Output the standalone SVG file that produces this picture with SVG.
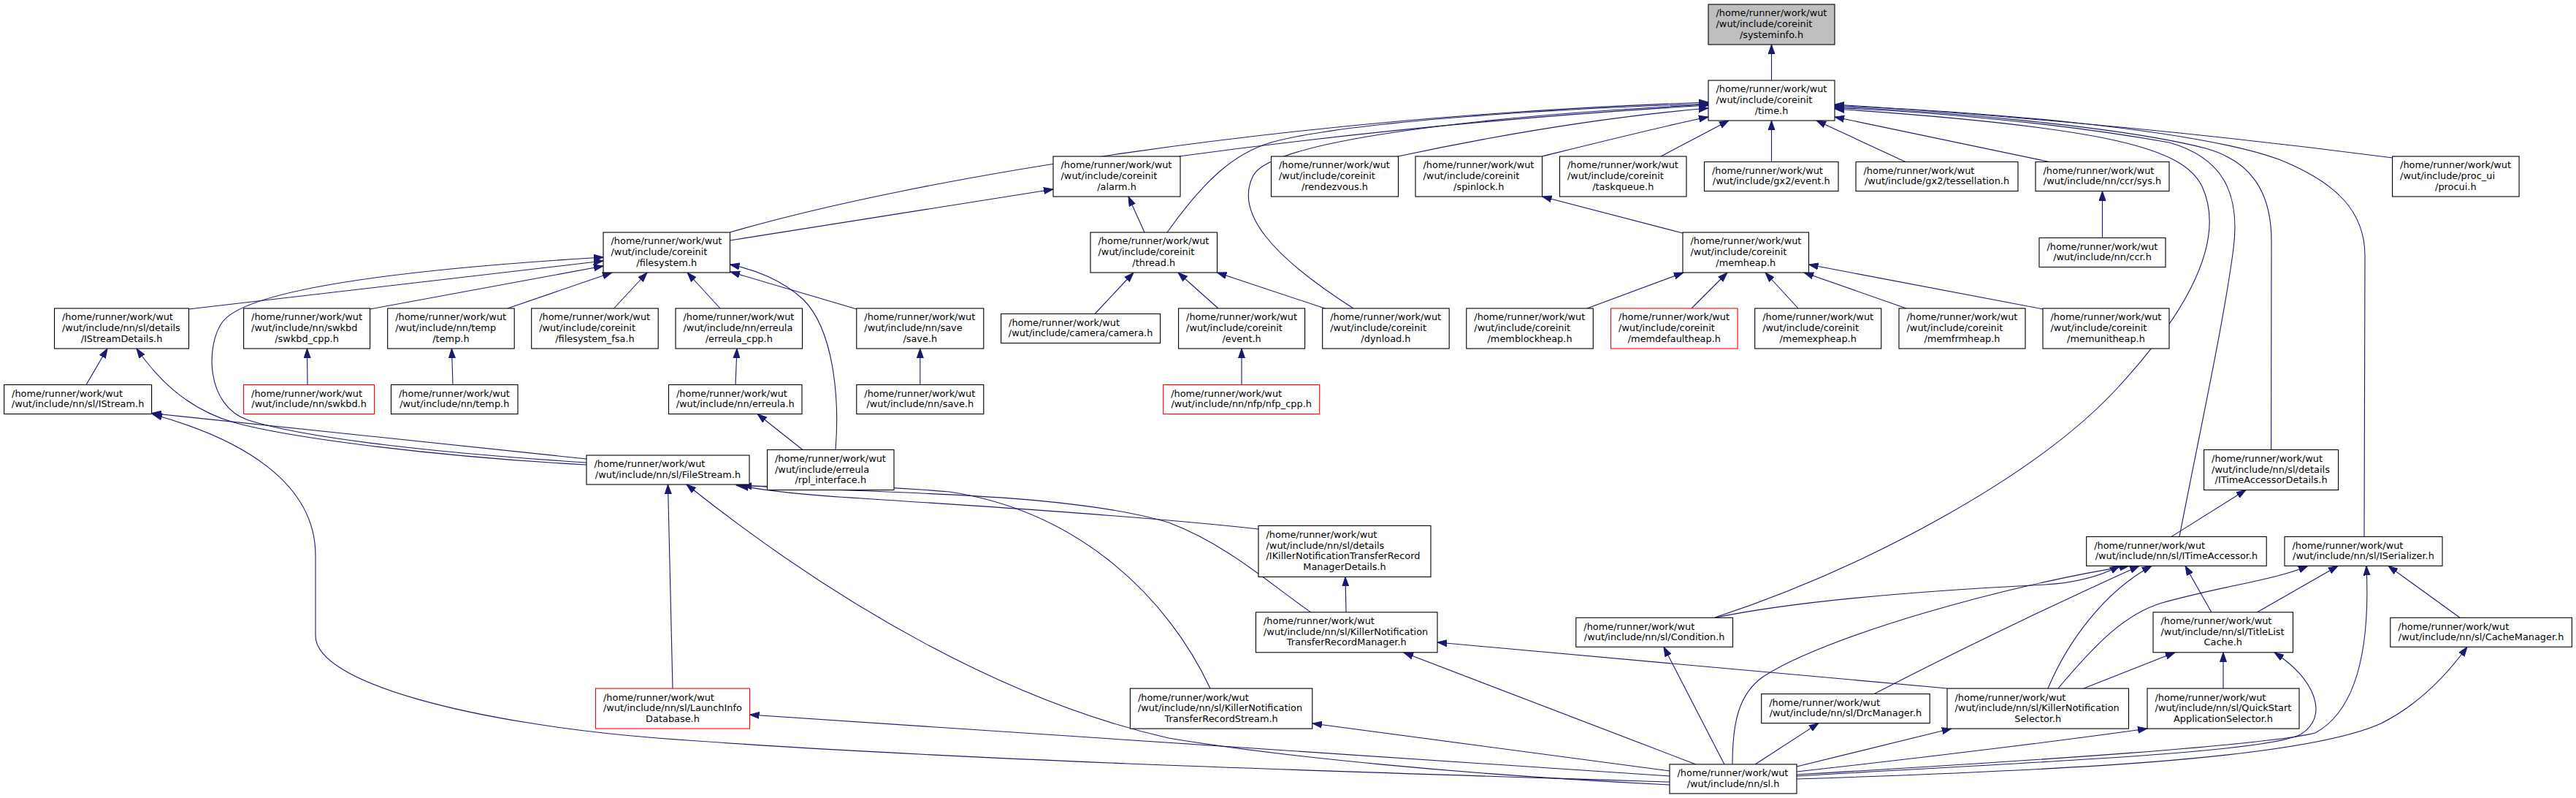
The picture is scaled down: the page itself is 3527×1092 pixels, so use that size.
<svg xmlns="http://www.w3.org/2000/svg" width="3527" height="1092" viewBox="0 0 3527 1092">
<style>
.n{fill:#fff;stroke:#000;stroke-width:1.1}
.r{fill:#fff;stroke:#ff0000;stroke-width:1.1}
.g{fill:#bfbfbf;stroke:#000;stroke-width:1.1}
text{font-family:"DejaVu Sans",sans-serif;font-size:12.9px;fill:#000}
.c{text-anchor:middle}
.e path{fill:none;stroke:#191970;stroke-width:1.1;marker-end:url(#a)}
</style>
<defs>
<marker id="a" markerUnits="userSpaceOnUse" markerWidth="14" markerHeight="10" refX="13" refY="5" orient="auto"><path d="M0,0.5 L13,5 L0,9.5 z" fill="#191970" stroke="#191970" stroke-width="1"/></marker>
</defs>
<rect width="3527" height="1092" fill="#fff"/>
<g class="e" id="edges">
<path d="M2425.5,110 L2425.5,61"/>
<path d="M999,318 C1250,245 1750,160 2339,140"/>
<path d="M1614,214 C1850,182 2100,158 2339,144"/>
<path d="M1598,318 C1650,245 1690,210 1740,195 C1850,165 2150,148 2339,142"/>
<path d="M1853,422 C1740,350 1690,290 1716,240 C1740,195 2000,160 2339,143"/>
<path d="M1914,214 C2050,185 2200,160 2339,148"/>
<path d="M2111,214 C2200,192 2280,172 2339,160"/>
<path d="M2274,214 L2367,165"/>
<path d="M2425.5,221.5 L2425.5,165"/>
<path d="M2609,221.5 L2487,165"/>
<path d="M2806,221.5 L2512,160"/>
<path d="M3276,216 C3000,180 2750,158 2512,143"/>
<path d="M2348,845 C2560,775 2790,650 2900,530 C3010,410 3045,320 3015,255 C2990,205 2900,175 2512,149"/>
<path d="M2984,734.4 C3010,600 3045,440 3058,340 C3068,260 3040,215 2970,195 C2800,165 2620,152 2512,147.5"/>
<path d="M3109.6,615.5 L3110,330 C3110,260 3080,220 3020,203 C2900,172 2650,152 2512,146"/>
<path d="M3237,734.4 L3238,350 C3238,290 3200,250 3120,218 C3000,175 2700,152 2512,144.5"/>
<path d="M999.5,329 L1442,259"/>
<path d="M1567,318 L1545,269"/>
<path d="M258.5,423 L826,357"/>
<path d="M803,633 C600,620 420,600 340,575 C280,555 282,470 305,440 C340,395 560,368 826,352"/>
<path d="M506.6,423 L826,364"/>
<path d="M695,422 L838,373"/>
<path d="M840.6,422 L886,373"/>
<path d="M986,422 L941,373"/>
<path d="M1173,423 L1000,372"/>
<path d="M1144,615.5 C1150,540 1140,450 1100,410 C1070,382 1030,368 999.5,362"/>
<path d="M1499,429.5 L1552,373"/>
<path d="M1668,422 L1613,373"/>
<path d="M1814,422 L1666.5,373"/>
<path d="M1700,526.5 L1700,477"/>
<path d="M2304,319 L2111.5,269"/>
<path d="M2173,422 L2305,373"/>
<path d="M2316,422 L2365,373"/>
<path d="M2462,422 L2417,373"/>
<path d="M2610,422 L2470,373"/>
<path d="M2797,423 L2476.5,362"/>
<path d="M2878.5,325.5 L2878.5,261.5"/>
<path d="M1259.8,526.5 L1259.8,477"/>
<path d="M620,526.5 L618.5,477"/>
<path d="M421,526.5 L420.5,477"/>
<path d="M1007,526.5 L1009,477"/>
<path d="M1099,615.5 L1037,566.5"/>
<path d="M118,526.5 L147,477"/>
<path d="M803,636 C600,625 400,600 320,578 C250,558 210,510 187,477"/>
<path d="M803,628 L207.6,565.5"/>
<path d="M2286,1070 C1800,1055 1300,1040 900,1010 C650,990 432,935 432,870 L432,760 C432,660 330,600 209,567"/>
<path d="M921,942 L914.5,663"/>
<path d="M2286,1074 C2000,1060 1750,1035 1600,1010 C1380,960 1150,830 940,663"/>
<path d="M1657,942 C1600,820 1480,700 1300,673 C1150,660 1060,668 1008,664"/>
<path d="M1723,724 C1550,705 1300,690 1180,682 C1080,676 1030,668 1012,664"/>
<path d="M1795,838 C1740,800 1680,745 1600,715 C1450,670 1150,675 1016,664"/>
<path d="M1843,837.8 L1842,789.4"/>
<path d="M2666,942 L1968,879"/>
<path d="M2322,1046 L1922,893"/>
<path d="M2361,1046 L2278,885.3"/>
<path d="M2348,845.3 C2480,818 2700,805 2800,800 C2850,797 2880,786 2902,774.4"/>
<path d="M2566,949.6 C2700,880 2850,810 2929,774.4"/>
<path d="M2804,942 C2830,880 2880,810 2946,774.4"/>
<path d="M3028,838 L2992,774.4"/>
<path d="M2372,1046 C2372,990 2380,950 2414,926 C2500,870 2750,800 2915,774.4"/>
<path d="M2973,734.4 L3075,670.5"/>
<path d="M3090,838 L3201,774.4"/>
<path d="M3368,845.3 L3270,774.4"/>
<path d="M2818,942 C2870,880 2910,840 2960,825 C3050,800 3110,795 3160,774.4"/>
<path d="M2460,1060 C2800,1040 3100,1020 3170,1003 C3230,970 3245,880 3240,774.4"/>
<path d="M2853,942 L2978,892.8"/>
<path d="M3044,942 L3044,892.8"/>
<path d="M2460,1062 C2800,1042 3100,1030 3150,1005 C3190,980 3170,930 3114,892.8"/>
<path d="M2403,1046 L2490,989.6"/>
<path d="M2460,1049 L2672,997"/>
<path d="M2460,1056 C2650,1035 2850,1010 2940,997"/>
<path d="M2460,1066 C2800,1055 3150,1040 3260,990 C3320,960 3360,910 3378,885.3"/>
<path d="M2286,1062 L1026.5,978"/>
<path d="M2286,1055 L1797,990"/>
</g>
<g id="n_systeminfo"><rect class="g" x="2339" y="6" width="173" height="55"/><text x="2349.5" y="22.4">/home/runner/work/wut</text><text x="2349.5" y="37">/wut/include/coreinit</text><text class="c" x="2425.5" y="51.6">/systeminfo.h</text></g>
<g id="n_time"><rect class="n" x="2339" y="110" width="173" height="55"/><text x="2349.5" y="126.4">/home/runner/work/wut</text><text x="2349.5" y="141">/wut/include/coreinit</text><text class="c" x="2425.5" y="155.6">/time.h</text></g>
<g id="n_alarm"><rect class="n" x="1442" y="214" width="174" height="55"/><text x="1452.5" y="230.4">/home/runner/work/wut</text><text x="1452.5" y="245">/wut/include/coreinit</text><text class="c" x="1529" y="259.6">/alarm.h</text></g>
<g id="n_rendezvous"><rect class="n" x="1740.5" y="214" width="174" height="55"/><text x="1751" y="230.4">/home/runner/work/wut</text><text x="1751" y="245">/wut/include/coreinit</text><text class="c" x="1827.5" y="259.6">/rendezvous.h</text></g>
<g id="n_spinlock"><rect class="n" x="1938" y="214" width="173.5" height="55"/><text x="1948.5" y="230.4">/home/runner/work/wut</text><text x="1948.5" y="245">/wut/include/coreinit</text><text class="c" x="2024.75" y="259.6">/spinlock.h</text></g>
<g id="n_taskqueue"><rect class="n" x="2135.5" y="214" width="173.5" height="55"/><text x="2146" y="230.4">/home/runner/work/wut</text><text x="2146" y="245">/wut/include/coreinit</text><text class="c" x="2222.25" y="259.6">/taskqueue.h</text></g>
<g id="n_gx2event"><rect class="n" x="2333.5" y="221.5" width="183.5" height="40"/><text x="2344" y="237.7">/home/runner/work/wut</text><text class="c" x="2425.25" y="252.3">/wut/include/gx2/event.h</text></g>
<g id="n_tess"><rect class="n" x="2541" y="221.5" width="222" height="40"/><text x="2551.5" y="237.7">/home/runner/work/wut</text><text class="c" x="2652" y="252.3">/wut/include/gx2/tessellation.h</text></g>
<g id="n_ccrsys"><rect class="n" x="2787" y="221.5" width="183" height="40"/><text x="2797.5" y="237.7">/home/runner/work/wut</text><text class="c" x="2878.5" y="252.3">/wut/include/nn/ccr/sys.h</text></g>
<g id="n_procui"><rect class="n" x="3275.6" y="214" width="173.5" height="55"/><text x="3286.1" y="230.4">/home/runner/work/wut</text><text x="3286.1" y="245">/wut/include/proc_ui</text><text class="c" x="3362.35" y="259.6">/procui.h</text></g>
<g id="n_filesystem"><rect class="n" x="826" y="318" width="173.5" height="55"/><text x="836.5" y="334.4">/home/runner/work/wut</text><text x="836.5" y="349">/wut/include/coreinit</text><text class="c" x="912.75" y="363.6">/filesystem.h</text></g>
<g id="n_thread"><rect class="n" x="1493" y="318" width="173.5" height="55"/><text x="1503.5" y="334.4">/home/runner/work/wut</text><text x="1503.5" y="349">/wut/include/coreinit</text><text class="c" x="1579.75" y="363.6">/thread.h</text></g>
<g id="n_memheap"><rect class="n" x="2304" y="318" width="172.5" height="55"/><text x="2314.5" y="334.4">/home/runner/work/wut</text><text x="2314.5" y="349">/wut/include/coreinit</text><text class="c" x="2390.25" y="363.6">/memheap.h</text></g>
<g id="n_ccr"><rect class="n" x="2792" y="325.5" width="173" height="40"/><text x="2802.5" y="341.7">/home/runner/work/wut</text><text class="c" x="2878.5" y="356.3">/wut/include/nn/ccr.h</text></g>
<g id="n_istreamdetails"><rect class="n" x="74.5" y="422" width="184" height="55"/><text x="85" y="438.4">/home/runner/work/wut</text><text x="85" y="453">/wut/include/nn/sl/details</text><text class="c" x="166.5" y="467.6">/IStreamDetails.h</text></g>
<g id="n_swkbdcpp"><rect class="n" x="333.6" y="422" width="173" height="55"/><text x="344.1" y="438.4">/home/runner/work/wut</text><text x="344.1" y="453">/wut/include/nn/swkbd</text><text class="c" x="420.1" y="467.6">/swkbd_cpp.h</text></g>
<g id="n_temptemp"><rect class="n" x="530.7" y="422" width="173.5" height="55"/><text x="541.2" y="438.4">/home/runner/work/wut</text><text x="541.2" y="453">/wut/include/nn/temp</text><text class="c" x="617.45" y="467.6">/temp.h</text></g>
<g id="n_fsa"><rect class="n" x="727.7" y="422" width="173.5" height="55"/><text x="738.2" y="438.4">/home/runner/work/wut</text><text x="738.2" y="453">/wut/include/coreinit</text><text class="c" x="814.45" y="467.6">/filesystem_fsa.h</text></g>
<g id="n_erreulacpp"><rect class="n" x="925" y="422" width="173.5" height="55"/><text x="935.5" y="438.4">/home/runner/work/wut</text><text x="935.5" y="453">/wut/include/nn/erreula</text><text class="c" x="1011.75" y="467.6">/erreula_cpp.h</text></g>
<g id="n_savesave"><rect class="n" x="1172.8" y="422" width="174" height="55"/><text x="1183.3" y="438.4">/home/runner/work/wut</text><text x="1183.3" y="453">/wut/include/nn/save</text><text class="c" x="1259.8" y="467.6">/save.h</text></g>
<g id="n_camera"><rect class="n" x="1370.6" y="429.5" width="218" height="40"/><text x="1381.1" y="445.7">/home/runner/work/wut</text><text class="c" x="1479.6" y="460.3">/wut/include/camera/camera.h</text></g>
<g id="n_event"><rect class="n" x="1613.6" y="422" width="173" height="55"/><text x="1624.1" y="438.4">/home/runner/work/wut</text><text x="1624.1" y="453">/wut/include/coreinit</text><text class="c" x="1700.1" y="467.6">/event.h</text></g>
<g id="n_dynload"><rect class="n" x="1810.7" y="422" width="173.5" height="55"/><text x="1821.2" y="438.4">/home/runner/work/wut</text><text x="1821.2" y="453">/wut/include/coreinit</text><text class="c" x="1897.45" y="467.6">/dynload.h</text></g>
<g id="n_memblock"><rect class="n" x="2007.8" y="422" width="173.5" height="55"/><text x="2018.3" y="438.4">/home/runner/work/wut</text><text x="2018.3" y="453">/wut/include/coreinit</text><text class="c" x="2094.55" y="467.6">/memblockheap.h</text></g>
<g id="n_memdefault"><rect class="r" x="2205.6" y="422" width="173.5" height="55"/><text x="2216.1" y="438.4">/home/runner/work/wut</text><text x="2216.1" y="453">/wut/include/coreinit</text><text class="c" x="2292.35" y="467.6">/memdefaultheap.h</text></g>
<g id="n_memexp"><rect class="n" x="2402.7" y="422" width="173" height="55"/><text x="2413.2" y="438.4">/home/runner/work/wut</text><text x="2413.2" y="453">/wut/include/coreinit</text><text class="c" x="2489.2" y="467.6">/memexpheap.h</text></g>
<g id="n_memfrm"><rect class="n" x="2600" y="422" width="173" height="55"/><text x="2610.5" y="438.4">/home/runner/work/wut</text><text x="2610.5" y="453">/wut/include/coreinit</text><text class="c" x="2686.5" y="467.6">/memfrmheap.h</text></g>
<g id="n_memunit"><rect class="n" x="2797" y="422" width="173" height="55"/><text x="2807.5" y="438.4">/home/runner/work/wut</text><text x="2807.5" y="453">/wut/include/coreinit</text><text class="c" x="2883.5" y="467.6">/memunitheap.h</text></g>
<g id="n_istream"><rect class="n" x="5.6" y="526.5" width="202" height="40"/><text x="16.1" y="542.7">/home/runner/work/wut</text><text class="c" x="106.6" y="557.3">/wut/include/nn/sl/IStream.h</text></g>
<g id="n_swkbd"><rect class="r" x="333.6" y="526.5" width="179" height="40"/><text x="344.1" y="542.7">/home/runner/work/wut</text><text class="c" x="423.1" y="557.3">/wut/include/nn/swkbd.h</text></g>
<g id="n_nntemp"><rect class="n" x="535.5" y="526.5" width="173.5" height="40"/><text x="546" y="542.7">/home/runner/work/wut</text><text class="c" x="622.25" y="557.3">/wut/include/nn/temp.h</text></g>
<g id="n_nnerreula"><rect class="n" x="915.5" y="526.5" width="182.5" height="40"/><text x="926" y="542.7">/home/runner/work/wut</text><text class="c" x="1006.75" y="557.3">/wut/include/nn/erreula.h</text></g>
<g id="n_nnsave"><rect class="n" x="1172.8" y="526.5" width="174" height="40"/><text x="1183.3" y="542.7">/home/runner/work/wut</text><text class="c" x="1259.8" y="557.3">/wut/include/nn/save.h</text></g>
<g id="n_nfp"><rect class="r" x="1592.7" y="526.5" width="214" height="40"/><text x="1603.2" y="542.7">/home/runner/work/wut</text><text class="c" x="1699.7" y="557.3">/wut/include/nn/nfp/nfp_cpp.h</text></g>
<g id="n_filestream"><rect class="n" x="803" y="623" width="223" height="40"/><text x="813.5" y="639.2">/home/runner/work/wut</text><text class="c" x="914.5" y="653.8">/wut/include/nn/sl/FileStream.h</text></g>
<g id="n_rpl"><rect class="n" x="1050.5" y="615.5" width="173.5" height="55"/><text x="1061" y="631.9">/home/runner/work/wut</text><text x="1061" y="646.5">/wut/include/erreula</text><text class="c" x="1137.25" y="661.1">/rpl_interface.h</text></g>
<g id="n_itadetails"><rect class="n" x="3017.6" y="615.5" width="184" height="55"/><text x="3028.1" y="631.9">/home/runner/work/wut</text><text x="3028.1" y="646.5">/wut/include/nn/sl/details</text><text class="c" x="3109.6" y="661.1">/ITimeAccessorDetails.h</text></g>
<g id="n_ikndetails"><rect class="n" x="1723" y="719.4" width="236" height="70"/><text x="1733.5" y="736">/home/runner/work/wut</text><text x="1733.5" y="750.6">/wut/include/nn/sl/details</text><text x="1733.5" y="765.2">/IKillerNotificationTransferRecord</text><text class="c" x="1841" y="779.8">ManagerDetails.h</text></g>
<g id="n_itimeaccessor"><rect class="n" x="2856.7" y="734.4" width="246.5" height="40"/><text x="2867.2" y="750.6">/home/runner/work/wut</text><text class="c" x="2979.95" y="765.2">/wut/include/nn/sl/ITimeAccessor.h</text></g>
<g id="n_iserializer"><rect class="n" x="3128" y="734.4" width="216" height="40"/><text x="3138.5" y="750.6">/home/runner/work/wut</text><text class="c" x="3236" y="765.2">/wut/include/nn/sl/ISerializer.h</text></g>
<g id="n_kntrmanager"><rect class="n" x="1719.5" y="837.8" width="248.5" height="55"/><text x="1730" y="854.2">/home/runner/work/wut</text><text x="1730" y="868.8">/wut/include/nn/sl/KillerNotification</text><text class="c" x="1843.75" y="883.4">TransferRecordManager.h</text></g>
<g id="n_condition"><rect class="n" x="2157.8" y="845.3" width="214.7" height="40"/><text x="2168.3" y="861.5">/home/runner/work/wut</text><text class="c" x="2265.15" y="876.1">/wut/include/nn/sl/Condition.h</text></g>
<g id="n_titlelist"><rect class="n" x="2948" y="837.8" width="191.5" height="55"/><text x="2958.5" y="854.2">/home/runner/work/wut</text><text x="2958.5" y="868.8">/wut/include/nn/sl/TitleList</text><text class="c" x="3043.75" y="883.4">Cache.h</text></g>
<g id="n_cachemanager"><rect class="n" x="3272.8" y="845.3" width="248.6" height="40"/><text x="3283.3" y="861.5">/home/runner/work/wut</text><text class="c" x="3397.1" y="876.1">/wut/include/nn/sl/CacheManager.h</text></g>
<g id="n_launchinfo"><rect class="r" x="815.5" y="942.1" width="211" height="55"/><text x="826" y="958.5">/home/runner/work/wut</text><text x="826" y="973.1">/wut/include/nn/sl/LaunchInfo</text><text class="c" x="921" y="987.7">Database.h</text></g>
<g id="n_kntrstream"><rect class="n" x="1547.4" y="942.1" width="249.4" height="55"/><text x="1557.9" y="958.5">/home/runner/work/wut</text><text x="1557.9" y="973.1">/wut/include/nn/sl/KillerNotification</text><text class="c" x="1672.1" y="987.7">TransferRecordStream.h</text></g>
<g id="n_drcmanager"><rect class="n" x="2411.7" y="949.6" width="230.5" height="40"/><text x="2422.2" y="965.8">/home/runner/work/wut</text><text class="c" x="2526.95" y="980.4">/wut/include/nn/sl/DrcManager.h</text></g>
<g id="n_knselector"><rect class="n" x="2666" y="942.1" width="248.5" height="55"/><text x="2676.5" y="958.5">/home/runner/work/wut</text><text x="2676.5" y="973.1">/wut/include/nn/sl/KillerNotification</text><text class="c" x="2790.25" y="987.7">Selector.h</text></g>
<g id="n_quickstart"><rect class="n" x="2940" y="942.1" width="208" height="55"/><text x="2950.5" y="958.5">/home/runner/work/wut</text><text x="2950.5" y="973.1">/wut/include/nn/sl/QuickStart</text><text class="c" x="3044" y="987.7">ApplicationSelector.h</text></g>
<g id="n_sl"><rect class="n" x="2286" y="1045.9" width="174" height="40"/><text x="2296.5" y="1062.1">/home/runner/work/wut</text><text class="c" x="2373" y="1076.7">/wut/include/nn/sl.h</text></g>
</svg>
